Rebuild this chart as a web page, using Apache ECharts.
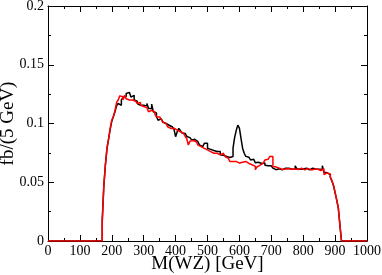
<!DOCTYPE html>
<html>
<head>
<meta charset="utf-8">
<script src="https://cdn.jsdelivr.net/npm/echarts@6/dist/echarts.min.js"></script>
<style>html,body{margin:0;padding:0;background:#fff;}#c{width:382px;height:275px;}</style>
</head>
<body>
<div id="c"></div>
<script>
// Histogram: 5 GeV bins, first non-empty bin starts at 170 GeV
const binStart = 170;
const binWidth = 5;
const xTicks = [0,100,200,300,400,500,600,700,800,900,1000];
const yTicks = [0,0.05,0.1,0.15,0.2];
const blackValues = [
0.018,0.047,0.065,0.079,0.087,0.095,0.102,0.106,0.110,0.115,
0.117,0.1155,0.120,0.122,0.123,0.1255,0.1265,0.1255,0.1225,0.124,
0.120,0.119,0.117,0.1155,0.117,0.1155,0.114,0.115,0.117,0.113,
0.1125,0.1165,0.110,0.109,0.106,0.1028,0.104,0.1035,0.101,0.100,
0.0995,0.0985,0.099,0.097,0.0965,0.095,0.0888,0.093,0.0958,0.094,
0.092,0.0916,0.0905,0.089,0.088,0.0874,0.086,0.0865,0.085,0.0845,
0.083,0.0817,0.0803,0.082,0.0831,0.0831,0.079,0.078,0.0775,0.077,
0.076,0.0761,0.0755,0.0761,0.0735,0.073,0.0725,0.072,0.0722,0.071,
0.0705,0.0719,0.079,0.088,0.094,0.0986,0.096,0.0874,0.079,0.0747,
0.072,0.0712,0.0705,0.069,0.0695,0.068,0.0665,0.067,0.0655,0.066,
0.0649,0.0663,0.0645,0.064,0.064,0.064,0.0635,0.062,0.0607,0.0595,
0.0615,0.062,0.0607,0.0615,0.062,0.061,0.062,0.0615,0.061,0.0618,
0.0612,0.064,0.0615,0.061,0.0618,0.0612,0.0608,0.062,0.0615,0.0605,
0.0612,0.062,0.0615,0.061,0.0618,0.061,0.0615,0.0608,0.064,0.0585,
0.058,0.057,0.0565,0.054,0.051,0.047,0.041,0.035,0.028,0.014
];
const redValues = [
0.015,0.047,0.065,0.079,0.087,0.096,0.103,0.106,0.111,0.118,
0.120,0.1235,0.1227,0.120,0.124,0.121,0.120,0.1185,0.120,0.1185,
0.119,0.1185,0.117,0.118,0.1155,0.1145,0.114,0.1135,0.112,0.110,
0.1112,0.110,0.1098,0.108,0.1056,0.1056,0.1049,0.1035,0.1014,0.100,
0.0995,0.0972,0.0958,0.0972,0.096,0.0944,0.0944,0.093,0.093,0.092,
0.0916,0.0902,0.089,0.087,0.0817,0.085,0.0855,0.0845,0.0845,0.083,
0.0817,0.0803,0.080,0.0789,0.0775,0.0775,0.0775,0.0761,0.0755,0.0747,
0.074,0.0747,0.0733,0.0733,0.0735,0.0747,0.0733,0.0719,0.0705,0.0691,
0.0677,0.0677,0.0663,0.0677,0.067,0.0663,0.0677,0.067,0.0663,0.0677,
0.0663,0.066,0.067,0.0649,0.0645,0.0635,0.0607,0.063,0.0645,0.066,
0.0663,0.0677,0.069,0.0695,0.0705,0.0719,0.0719,0.0635,0.063,0.0621,
0.062,0.0615,0.0608,0.062,0.0612,0.0605,0.0615,0.062,0.061,0.0605,
0.0612,0.0618,0.0608,0.0615,0.062,0.061,0.0605,0.0612,0.0618,0.061,
0.0605,0.0615,0.061,0.0602,0.0612,0.0608,0.060,0.0598,0.0615,0.0565,
0.058,0.0575,0.057,0.0545,0.0515,0.0475,0.0415,0.035,0.0285,0.0135
];

const xMin = xTicks[0], xMax = xTicks[xTicks.length-1];
function stepData(vals){
  const pts = [[xMin, 0]];
  vals.forEach((v,i)=>pts.push([binStart + i*binWidth, v]));
  pts.push([binStart + vals.length*binWidth, 0]);
  pts.push([xMax, 0]);
  return pts;
}

const FONT = 'Liberation Serif';
const axisLine = {show:true, onZero:false, lineStyle:{color:'#000', width:1}};
const tick = {show:true, inside:true, length:6, lineStyle:{color:'#000', width:1}};
const minor = {show:true, splitNumber:2, length:3, lineStyle:{color:'#000', width:1}};

const chart = echarts.init(document.getElementById('c'), null, {renderer:'canvas'});
chart.setOption({
  animation:false,
  backgroundColor:'#fff',
  grid:{left:48, top:6, width:319, height:235, containLabel:false, outerBoundsMode:'none'},
  xAxis:[{
    type:'value', min:xMin, max:xMax, interval:100, position:'bottom',
    axisLine:axisLine, axisTick:tick, minorTick:minor, splitLine:{show:false},
    axisLabel:{fontFamily:FONT, fontSize:14, color:'#000', margin:3, formatter:v=>String(v),
      hideOverlap:false, showMinLabel:true, showMaxLabel:true},
    name:'M(WZ) [GeV]', nameLocation:'middle', nameGap:14, nameMoveOverlap:false,
    nameTextStyle:{fontFamily:FONT, fontSize:19, color:'#000'}
  },{
    type:'value', min:xMin, max:xMax, interval:100, position:'top',
    axisLine:axisLine, axisTick:tick, minorTick:minor, splitLine:{show:false},
    axisLabel:{show:false}
  }],
  yAxis:[{
    type:'value', min:yTicks[0], max:yTicks[yTicks.length-1], interval:0.05, position:'left',
    axisLine:axisLine, axisTick:tick, minorTick:minor, splitLine:{show:false},
    axisLabel:{fontFamily:FONT, fontSize:14, color:'#000', margin:4, formatter:v=>String(+v.toFixed(3)),
      showMinLabel:true, showMaxLabel:true},
    name:'fb/(5 GeV)', nameLocation:'middle', nameGap:30, nameMoveOverlap:false,
    nameTextStyle:{fontFamily:FONT, fontSize:19, color:'#000'}
  },{
    type:'value', min:yTicks[0], max:yTicks[yTicks.length-1], interval:0.05, position:'right',
    axisLine:axisLine, axisTick:tick, minorTick:minor, splitLine:{show:false},
    axisLabel:{show:false}
  }],
  series:[{
    type:'line', step:'end', data:stepData(blackValues), showSymbol:false, symbol:'none',
    lineStyle:{color:'#000', width:1.5}, xAxisIndex:0, yAxisIndex:0
  },{
    type:'line', step:'end', data:stepData(redValues), showSymbol:false, symbol:'none',
    lineStyle:{color:'#ff0000', width:1.5}, xAxisIndex:0, yAxisIndex:0
  }]
});
</script>
</body>
</html>
